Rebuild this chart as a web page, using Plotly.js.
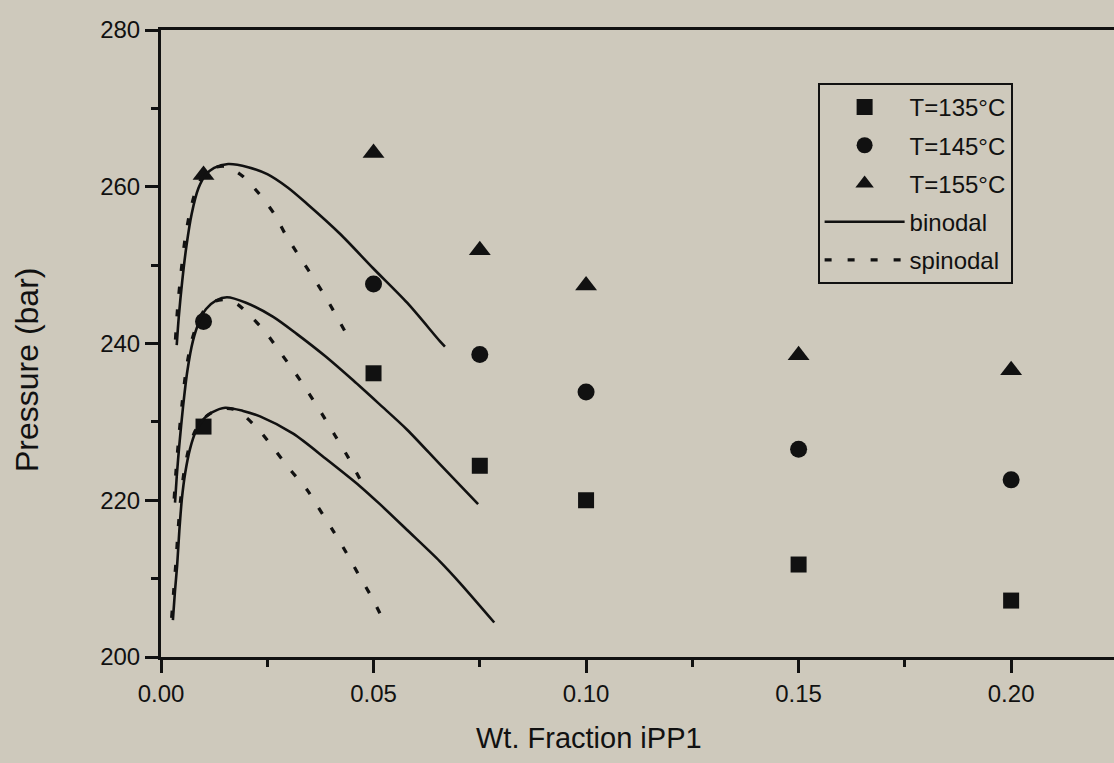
<!DOCTYPE html>
<html>
<head>
<meta charset="utf-8">
<script src="https://cdn.plot.ly/plotly-3.0.1.min.js"></script>
<style>
  html, body { margin: 0; padding: 0; background: #cec9bc; overflow: hidden; }
  #chart { width: 1114px; height: 763px; }
</style>
</head>
<body>
<div id="chart"></div>
<script>
// Experimental cloud points: weight fraction of iPP1 vs pressure (bar)
const wtFraction = [0.01, 0.05, 0.075, 0.10, 0.15, 0.20];
const p135 = [229.4, 236.2, 224.4, 220.0, 211.8, 207.2];
const p145 = [242.8, 247.6, 238.6, 233.8, 226.5, 222.6];
const p155 = [261.5, 264.3, 251.9, 247.4, 238.5, 236.6];

// Calculated binodal curves
const bin155x = [0.0037, 0.0042, 0.0050, 0.0060, 0.0072, 0.0088, 0.0105, 0.0125, 0.0158, 0.0205, 0.0250, 0.0298, 0.0344, 0.0421, 0.0499, 0.0579, 0.0656, 0.0668];
const bin155y = [239.8, 243.5, 248.0, 252.5, 256.5, 259.8, 261.5, 262.4, 262.9, 262.5, 261.6, 259.9, 257.8, 254.0, 249.6, 245.2, 240.3, 239.6];
const bin145x = [0.0033, 0.0037, 0.0043, 0.0052, 0.0062, 0.0075, 0.0090, 0.0106, 0.0130, 0.0155, 0.0200, 0.0264, 0.0320, 0.0386, 0.0452, 0.0515, 0.0579, 0.0656, 0.0746];
const bin145y = [219.7, 223.0, 227.0, 232.0, 236.5, 240.3, 242.8, 244.4, 245.5, 245.9, 245.2, 243.4, 241.2, 238.4, 235.3, 232.2, 229.0, 224.6, 219.5];
const bin135x = [0.0028, 0.0033, 0.0038, 0.0043, 0.0049, 0.0057, 0.0068, 0.0082, 0.0099, 0.0120, 0.0151, 0.0193, 0.0233, 0.0311, 0.0390, 0.0468, 0.0515, 0.0579, 0.0656, 0.0704, 0.0784];
const bin135y = [204.7, 208.5, 211.7, 216.0, 220.1, 223.5, 226.5, 228.8, 230.3, 231.2, 231.8, 231.4, 230.7, 228.5, 225.2, 221.8, 219.5, 216.2, 212.2, 209.4, 204.4];

// Calculated spinodal curves
const spin155x = [0.0034, 0.0039, 0.0047, 0.0057, 0.0069, 0.0085, 0.0102, 0.0122, 0.0150, 0.0175, 0.0193, 0.0231, 0.0268, 0.0294, 0.0327, 0.0362, 0.0393, 0.0421, 0.0449];
const spin155y = [240.5, 244.5, 249.0, 253.5, 257.0, 260.0, 261.6, 262.4, 262.6, 262.0, 261.3, 259.1, 256.4, 253.8, 251.0, 248.1, 245.4, 242.7, 240.0];
const spin145x = [0.0031, 0.0035, 0.0041, 0.0050, 0.0060, 0.0073, 0.0088, 0.0104, 0.0128, 0.0155, 0.0180, 0.0205, 0.0245, 0.0280, 0.0315, 0.0346, 0.0379, 0.0409, 0.0440, 0.0468];
const spin145y = [220.2, 223.5, 227.5, 232.5, 237.0, 240.5, 242.9, 244.4, 245.4, 245.6, 245.0, 243.8, 241.5, 238.9, 236.3, 233.8, 231.0, 228.3, 225.5, 222.7];
const spin135x = [0.0025, 0.0030, 0.0035, 0.0040, 0.0046, 0.0054, 0.0065, 0.0080, 0.0098, 0.0120, 0.0150, 0.0170, 0.0191, 0.0233, 0.0268, 0.0304, 0.0344, 0.0370, 0.0405, 0.0435, 0.0464, 0.0496, 0.0522];
const spin135y = [205.0, 208.5, 212.0, 216.0, 220.0, 223.5, 226.5, 228.8, 230.3, 231.2, 231.7, 231.6, 231.0, 228.8, 226.4, 223.9, 221.3, 219.1, 216.1, 213.4, 210.6, 207.6, 204.8];

// Axis ticks
const xTicks = [0.00, 0.05, 0.10, 0.15, 0.20];
const xTickText = ['0.00', '0.05', '0.10', '0.15', '0.20'];
const yTicks = [200, 220, 240, 260, 280];

const INK = '#111111';
const FONT = 'Liberation Sans, Arial, sans-serif';

function points(name, y, symbol, size, group) {
  return {
    type: 'scatter', mode: 'markers', name: name,
    x: wtFraction, y: y, legendgroup: group,
    marker: { symbol: symbol, size: size, color: INK, line: { width: 0 } },
    hoverinfo: 'x+y'
  };
}

function curve(x, y, dash, width, showlegend, name, group) {
  return {
    type: 'scatter', mode: 'lines', name: name,
    x: x, y: y, legendgroup: group, showlegend: showlegend,
    line: { color: INK, width: width, dash: dash, shape: 'spline', smoothing: 0.8 },
    hoverinfo: 'x+y'
  };
}

const SPIN_DASH = '7px,16px';

const traces = [
  points('T=135\u00B0C', p135, 'square', 16, 'g135'),
  points('T=145\u00B0C', p145, 'circle', 17, 'g145'),
  points('T=155\u00B0C', p155, 'triangle-up', 19, 'g155'),
  curve(bin155x, bin155y, 'solid', 2.6, true, 'binodal', 'bin'),
  curve(bin145x, bin145y, 'solid', 2.6, false, 'binodal', 'bin'),
  curve(bin135x, bin135y, 'solid', 2.6, false, 'binodal', 'bin'),
  curve(spin155x, spin155y, SPIN_DASH, 3.2, true, 'spinodal', 'spin'),
  curve(spin145x, spin145y, SPIN_DASH, 3.2, false, 'spinodal', 'spin'),
  curve(spin135x, spin135y, SPIN_DASH, 3.2, false, 'spinodal', 'spin')
];

const layout = {
  width: 1114, height: 763,
  paper_bgcolor: '#cec9bc', plot_bgcolor: '#cec9bc',
  margin: { l: 161, r: 0, t: 30, b: 106 },
  font: { family: FONT, color: INK, size: 24 },
  showlegend: true,
  xaxis: {
    range: [0, 0.2242], showgrid: false, zeroline: false,
    showline: true, linecolor: INK, linewidth: 3, mirror: true,
    ticks: 'outside', ticklen: 13, tickwidth: 3, tickcolor: INK,
    tickvals: xTicks, ticktext: xTickText,
    tickfont: { size: 24, family: FONT, color: INK },
    minor: { dtick: 0.025, ticks: 'outside', ticklen: 7, tickwidth: 3, tickcolor: INK, showgrid: false }
  },
  yaxis: {
    range: [200, 280], showgrid: false, zeroline: false,
    showline: true, linecolor: INK, linewidth: 3,
    ticks: 'outside', ticklen: 13, tickwidth: 3, tickcolor: INK,
    tickvals: yTicks,
    tickfont: { size: 24, family: FONT, color: INK },
    minor: { dtick: 10, ticks: 'outside', ticklen: 7, tickwidth: 3, tickcolor: INK, showgrid: false }
  },
  legend: {
    x: 0.689, y: 0.9155, xanchor: 'left', yanchor: 'top',
    bgcolor: 'rgba(0,0,0,0)', bordercolor: INK, borderwidth: 2,
    font: { size: 24, family: FONT, color: INK },
    traceorder: 'grouped', tracegroupgap: 4, itemwidth: 80
  },
  annotations: [
    {
      text: 'Wt. Fraction iPP1', xref: 'paper', yref: 'paper',
      x: 0.449, y: -0.129, xanchor: 'center', yanchor: 'middle',
      showarrow: false, font: { size: 29, family: FONT, color: INK }
    },
    {
      text: 'Pressure (bar)', xref: 'paper', yref: 'paper',
      x: -0.1406, y: 0.4577, xanchor: 'center', yanchor: 'middle',
      textangle: -90, showarrow: false, font: { size: 32, family: FONT, color: INK }
    }
  ]
};

Plotly.newPlot('chart', traces, layout, { displayModeBar: false, staticPlot: true });
</script>
</body>
</html>
